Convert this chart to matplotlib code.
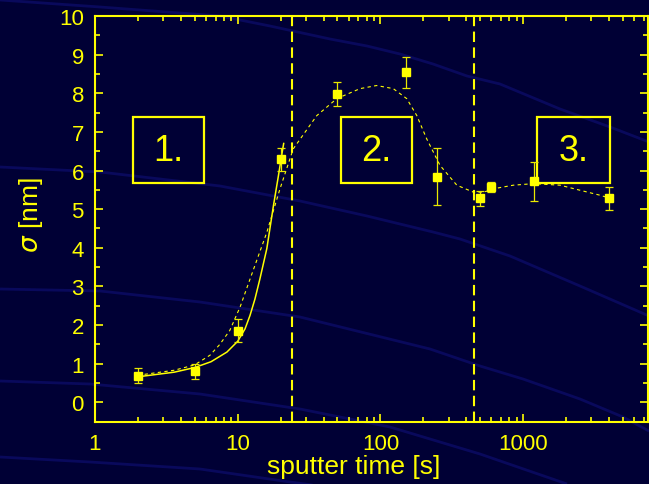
import matplotlib
matplotlib.use("Agg")
from matplotlib import pyplot as plt
from matplotlib.patches import Rectangle
from matplotlib.ticker import FixedLocator, FixedFormatter, MultipleLocator

# measured roughness vs sputter time
czas = [2, 5, 10, 20, 50, 150, 250, 500, 600, 1200, 4000]
sigma = [0.69, 0.80, 1.85, 6.29, 7.98, 8.54, 5.84, 5.28, 5.57, 5.72, 5.28]
blad = [0.2, 0.2, 0.3, 0.3, 0.3, 0.4, 0.74, 0.19, 0.13, 0.5, 0.3]

# fit for the first stage (solid line)
fit1_t = [2, 3.6, 5, 6.5, 8.4, 10, 11.25, 12.2, 13.2, 14.3, 16, 17.8, 19.3, 20.4, 21]
fit1_s = [0.66, 0.78, 0.90, 1.05, 1.30, 1.58, 1.90, 2.25, 2.67, 3.19, 3.98, 5.09, 5.87, 6.43, 6.70]

# fit over the whole range (dotted line)
fit2_t = [2, 3.6, 5, 6.4, 7.5, 8.8, 10.4, 12.2, 16, 19.8, 24.5, 35.8, 49.4, 72, 94,
          123, 153, 180, 211, 262, 343, 448, 526, 670, 853, 1180, 1815, 2500, 3460, 3750]
fit2_s = [0.70, 0.83, 0.97, 1.22, 1.50, 1.86, 2.47, 3.19, 4.40, 5.53, 6.56, 7.42, 7.86, 8.12, 8.20,
          8.12, 7.86, 7.42, 6.82, 6.13, 5.62, 5.44, 5.44, 5.55, 5.62, 5.66, 5.62, 5.49, 5.36, 5.32]

# stage boundaries
granice = [24, 455]
etapy = ["1.", "2.", "3."]

x_ticks = [1, 10, 100, 1000]
x_labels = ["1", "10", "100", "1000"]

# faint background swirls (pixel coordinates of the slide)
tlo = [
    ([0, 100, 220, 270, 330, 367, 400, 433, 467, 500, 560, 610, 649],
     [1, 8, 17, 27, 40, 47, 55, 65, 77, 85, 110, 128, 143]),
    ([0, 100, 220, 300, 367, 433, 460, 510, 580, 649],
     [168, 173, 187, 202, 217, 233, 240, 257, 287, 317]),
    ([0, 100, 200, 300, 430, 480, 523, 580, 623, 649],
     [290, 292, 303, 318, 350, 367, 380, 400, 418, 432]),
    ([0, 90, 200, 300, 390, 480, 567],
     [382, 385, 395, 410, 428, 455, 485]),
    ([0, 90, 200, 290, 320],
     [458, 463, 470, 483, 487]),
]

zolty = "#ffff00"
tlo_kolor = "#000035"

plt.rcParams['font.family'] = ['Liberation Sans', 'DejaVu Sans']
plt.rcParams['mathtext.fontset'] = 'dejavusans'

fig = plt.figure(figsize=(6.49, 4.85), dpi=100)
fig.patch.set_facecolor(tlo_kolor)

bg = fig.add_axes([0, 0, 1, 1], zorder=0)
bg.set_xlim(0, 649)
bg.set_ylim(485, 0)
bg.axis("off")
for xs, ys in tlo:
    bg.plot(xs, ys, color="#09095c", lw=2.0, solid_capstyle="butt")

ax = fig.add_axes([95 / 649, 1 - 422.6 / 485, 553 / 649, 405.6 / 485], zorder=1)
ax.set_facecolor("none")
ax.set_xscale("log")
ax.set_xlim(1, 7500)
ax.set_ylim(-0.5, 10)

for g in granice:
    ax.axvline(g, color=zolty, lw=1.5, ls=(0, (5, 2.6)))

ax.plot(fit1_t, fit1_s, color=zolty, lw=1.1)
ax.plot(fit2_t, fit2_s, color=zolty, lw=0.8, ls=(0, (3, 3)))

ax.errorbar(czas, sigma, yerr=blad, fmt="s", ms=6.2, color=zolty, mec=zolty,
            ecolor="#e8e800", elinewidth=0.9, capsize=3.2, capthick=0.9, zorder=5)

# numbered boxes for the three stages
pola = [(0.0687, 0.197), (0.444, 0.573), (0.800, 0.931)]
for (x0, x1), nazwa in zip(pola, etapy):
    ax.add_patch(Rectangle((x0, 0.588), x1 - x0, 0.163, transform=ax.transAxes,
                           fill=False, ec=zolty, lw=1.6))
    ax.text((x0 + x1) / 2, 0.588 + 0.163 / 2, nazwa, transform=ax.transAxes,
            ha="center", va="center", color=zolty, fontsize=26)

ax.xaxis.set_major_locator(FixedLocator(x_ticks))
ax.xaxis.set_major_formatter(FixedFormatter(x_labels))
ax.yaxis.set_major_locator(MultipleLocator(1))
ax.yaxis.set_minor_locator(MultipleLocator(0.5))

for s in ax.spines.values():
    s.set_color(zolty)
    s.set_linewidth(1.5)
ax.tick_params(which="both", direction="in", top=True, right=True,
               colors=zolty, labelsize=16, width=1.2, pad=8)
ax.tick_params(which="major", length=6)
ax.tick_params(which="minor", length=3.5)

ax.set_xlabel("sputter time [s]", color=zolty, fontsize=19)
ax.set_ylabel(r"$\sigma$ [nm]", color=zolty, fontsize=19)
ax.xaxis.set_label_coords(0.468, -0.08)
ax.yaxis.set_label_coords(-0.09, 0.51)

fig.savefig("out.png", dpi=100, facecolor=fig.get_facecolor())
